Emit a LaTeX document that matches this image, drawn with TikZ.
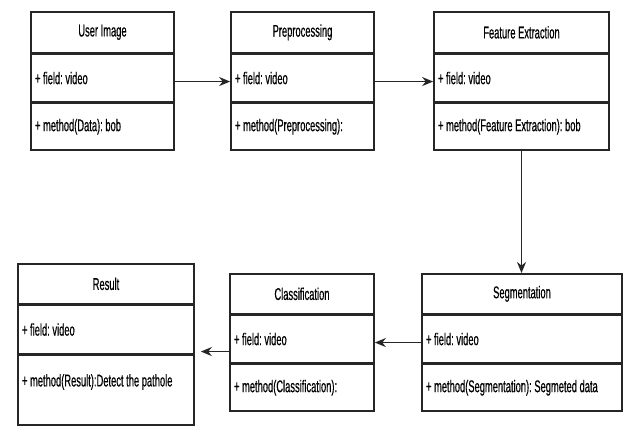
\documentclass[tikz,border=0pt]{standalone}
\usepackage{fontspec}
\setmainfont[FakeStretch=0.55, FakeBold=0.4]{Liberation Sans}
\usetikzlibrary{positioning,arrows.meta}

\begin{document}
\begin{tikzpicture}[x=1pt,y=-1pt,
    font=\fontsize{17}{20}\selectfont\frenchspacing,
    box/.style={draw=black!85, line width=1.7pt, anchor=north, inner sep=0pt},
    clsname/.style={box, minimum height=41pt},
    clssect/.style={box, minimum height=47pt, align=flush left, inner xsep=4pt,
        execute at begin node={\spaceskip=0pt\xspaceskip=0pt\relax}},
    arr/.style={-{Stealth[length=11pt,width=9pt]}, line width=1.7pt, draw=black!85}]
    \useasboundingbox[fill=white] (0,0) rectangle (639,428);

    % top row
    \node[clsname, minimum width=143pt] (userN) at (102.5,11) {User Image};
    \node[clssect, text width=135pt, below=0pt of userN] (userF) {+ field: video};
    \node[clssect, text width=135pt, below=0pt of userF] (userM) {+ method(Data): bob};

    \node[clsname, minimum width=143pt] (preN) at (302.5,11) {Preprocessing};
    \node[clssect, text width=135pt, below=0pt of preN] (preF) {+ field: video};
    \node[clssect, text width=135pt, below=0pt of preF] (preM) {+ method(Preprocessing):};

    \node[clsname, minimum width=175pt] (featN) at (521.5,11) {Feature Extraction};
    \node[clssect, text width=167pt, below=0pt of featN] (featF) {+ field: video};
    \node[clssect, text width=167pt, below=0pt of featF] (featM) {+ method(Feature Extraction): bob};

    % bottom row
    \node[clsname, minimum width=200pt, minimum height=40pt] (segN) at (522,273) {Segmentation};
    \node[clssect, text width=192pt, below=0pt of segN] (segF) {+ field: video};
    \node[clssect, text width=192pt, below=0pt of segF] (segM) {+ method(Segmentation): Segmeted data};

    \node[clsname, minimum width=144pt, minimum height=40pt] (classN) at (302,273) {Classification};
    \node[clssect, text width=136pt, below=0pt of classN] (classF) {+ field: video};
    \node[clssect, text width=136pt, below=0pt of classF] (classM) {+ method(Classification):};

    \node[clsname, minimum width=176pt, minimum height=40pt] (resN) at (106,263) {Result};
    \node[clssect, text width=168pt, minimum height=48pt, below=0pt of resN] (resF) {+ field: video};
    \node[clssect, text width=168pt, minimum height=70pt, text depth=20pt, below=0pt of resF] (resM) {+ method(Result):Detect the pathole};

    % flow
    \draw[arr] ([yshift=-3.5pt]userF.east) -- ([yshift=-3.5pt]preF.west);
    \draw[arr] ([yshift=-3.5pt]preF.east) -- ([yshift=-3.5pt]featF.west);
    \draw[arr] (featM.south) -- (featM.south |- segN.north);
    \draw[arr] ([yshift=-3.5pt]segF.west) -- ([yshift=-3.5pt]classF.east);
    \draw[arr, shorten >=6pt] ([yshift=-12.5pt]classF.west) -- ([yshift=-12.5pt]classF.west -| resF.east);
\end{tikzpicture}
\end{document}
